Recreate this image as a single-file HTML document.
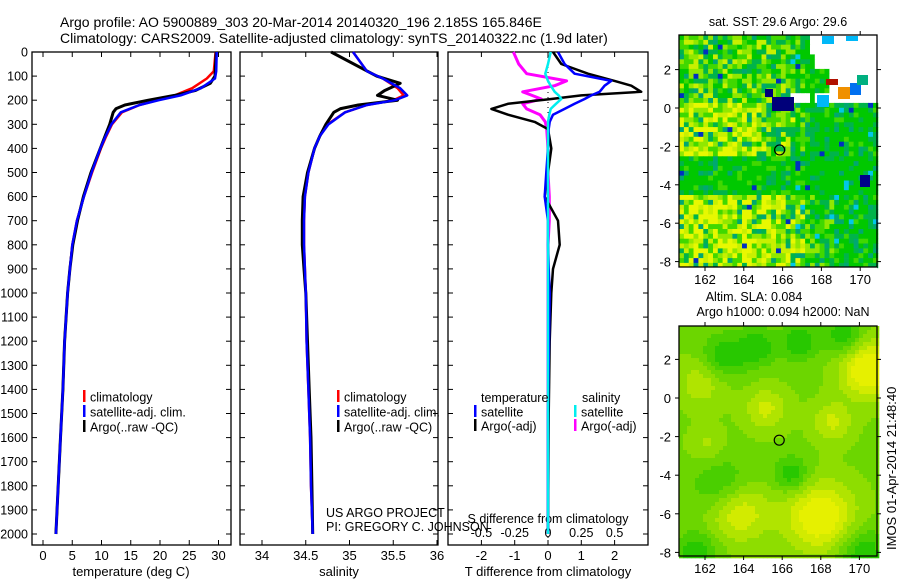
<!DOCTYPE html>
<html><head><meta charset="utf-8">
<style>
html,body{margin:0;padding:0;background:#fff;}
svg{display:block;font-family:"Liberation Sans",sans-serif;}
</style></head>
<body>
<svg id="fig" width="900" height="580" viewBox="0 0 900 580" xmlns="http://www.w3.org/2000/svg">
<text x="60" y="27" font-size="14">Argo profile: AO 5900889_303 20-Mar-2014 20140320_196 2.185S 165.846E</text>
<text x="60" y="43" font-size="14">Climatology: CARS2009. Satellite-adjusted climatology: synTS_20140322.nc (1.9d later)</text>
<g id="p1"></g>
<g id="p2"></g>
<g id="p3"></g>
<g id="m1"></g>
<g id="m2"></g>
<text x="0" y="0" font-size="13" transform="translate(896,550) rotate(-90)">IMOS 01-Apr-2014 21:48:40</text>
</svg>
<script>
// ---- data ----
const depthTicks = [0,100,200,300,400,500,600,700,800,900,1000,1100,1200,1300,1400,1500,1600,1700,1800,1900,2000];
const tempTicks = [0,5,10,15,20,25,30];
const salTicks = [34,34.5,35,35.5,36];
const salTickLabels = ["34","34.5","35","35.5","36"];
const tdiffTicks = [-2,-1,0,1,2];
const sdiffTicks = [-0.5,-0.25,0,0.25,0.5];
const sdiffTickLabels = ["-0.5","-0.25","0","0.25","0.5"];

const climDepth = [0,80,110,150,180,200,220,250,300,350,400,500,600,700,800,900,1000,1200,1400,1600,1800,2000];
const climTemp  = [29.5,29.2,28.0,25.5,22.5,19.5,16.5,13.5,11.8,10.8,9.9,8.4,7.0,5.8,5.0,4.6,4.2,3.7,3.4,3.0,2.6,2.2];
const satTemp   = [29.7,29.6,29.4,27.0,23.5,19.8,16.5,13.3,11.7,10.7,9.8,8.3,7.0,5.8,5.0,4.6,4.2,3.7,3.4,3.0,2.6,2.2];
const argoDepth = [0,100,130,160,180,200,220,235,250,300,350,400,500,600,700,800,900,1000,1200,1400,1600,1800,2000];
const argoTemp  = [29.6,29.4,28.6,26.0,22.5,18.0,14.0,12.5,12.0,11.4,10.6,9.8,8.2,6.9,5.9,5.1,4.6,4.2,3.7,3.4,3.0,2.6,2.2];

const climSal = [35.04,35.2,35.38,35.55,35.62,35.5,35.2,34.95,34.75,34.66,34.6,34.53,34.49,34.48,34.48,34.49,34.5,34.51,34.53,34.55,34.56,34.58];
const satSal  = [35.04,35.2,35.38,35.58,35.66,35.52,35.2,34.95,34.76,34.66,34.6,34.53,34.49,34.48,34.48,34.49,34.5,34.51,34.53,34.55,34.56,34.58];
const argoSal = [34.79,35.31,35.58,35.4,35.32,35.55,35.1,34.9,34.82,34.73,34.66,34.6,34.52,34.47,34.46,34.46,34.48,34.5,34.52,34.54,34.56,34.57,34.58];

const diffDepth  = [0,50,90,120,140,165,180,195,215,236,260,290,320,400,500,600,700,800,900,1000,1200,1500,2000];
const argoTdiff  = [0.15,0.4,1.2,2.0,2.5,2.8,1.0,0.1,-1.2,-1.7,-1.2,-0.4,0.0,0.1,0.0,-0.1,0.3,0.35,0.15,0.1,0.05,0.02,0.0];
const satTdiff   = [0.3,0.5,0.8,1.9,1.7,1.55,1.3,1.1,0.8,0.5,0.15,0.05,0.02,0.0,-0.05,-0.1,0.0,0.0,0.02,0.05,0.03,0.0,0.0];
const argoSdiff  = [-0.26,-0.22,-0.16,0.14,0.05,-0.19,-0.12,-0.05,-0.19,-0.16,-0.06,-0.02,-0.01,0.0,0.0,0.01,0.01,0.0,0.0,0.0,0.0,0.0,0.0];
const satSdiff   = [0.02,0.0,-0.02,0.0,0.02,0.05,0.08,0.1,0.06,0.02,0.01,0.0,0.0,0.0,0.0,0.0,0.0,0.0,0.0,0.0,0.0,0.0,0.0];

const lonTicks = [162,164,166,168,170];
const latTicks = [2,0,-2,-4,-6,-8];
const argoLon = 165.846, argoLat = -2.185;

const NS="http://www.w3.org/2000/svg";
function mk(parent,tag,attrs){const e=document.createElementNS(NS,tag);for(const k in attrs)e.setAttribute(k,attrs[k]);parent.appendChild(e);return e;}
function txt(parent,x,y,s,size,anchor){const t=mk(parent,'text',{x:x,y:y,'font-size':size,'text-anchor':anchor||'start'});t.textContent=s;return t;}

const top0=52, pxPer=0.2410;
function yD(d){return top0+d*pxPer;}
const fTop=52, fBot=545;

function frame(g,x0,x1){
  const r=mk(g,'rect',{x:x0,y:fTop,width:x1-x0,height:fBot-fTop,fill:'none',stroke:'#000','stroke-width':1.3});
  
  
  depthTicks.forEach(d=>{
    mk(g,'line',{x1:x0,x2:x0+5,y1:yD(d),y2:yD(d),stroke:'#000'});
    mk(g,'line',{x1:x1-5,x2:x1,y1:yD(d),y2:yD(d),stroke:'#000'});
  });
}
function xTicks(g,xs,labels,yl){
  xs.forEach((x,i)=>{
    mk(g,'line',{x1:x,x2:x,y1:fBot,y2:fBot-5,stroke:'#000'});
    mk(g,'line',{x1:x,x2:x,y1:fTop,y2:fTop+5,stroke:'#000'});
    const t=txt(g,x,yl,labels[i],13,'middle');
    
    
  });
}
function line(g,xs,ds,fx,color,w,name){
  const pts=ds.map((d,i)=>fx(xs[i]).toFixed(1)+','+yD(d).toFixed(1)).join(' ');
  const p=mk(g,'polyline',{points:pts,fill:'none',stroke:color,'stroke-width':w,'stroke-linejoin':'round'});
  
  
}
function legend(g,x,y,color,label){
  mk(g,'rect',{x:x,y:y-7,width:2.5,height:12,fill:color});
  const t=txt(g,x+7,y+4.5,label,12.5);
  
  
}

// Panel 1
const p1=document.getElementById('p1');
const xT=v=>43+v*5.85;
frame(p1,32,231);
depthTicks.forEach(d=>{const t=txt(p1,28,yD(d)+4.5,String(d),12.5,'end');
  
  });
xTicks(p1,tempTicks.map(xT),tempTicks.map(String),560);
const xl1=txt(p1,131,576,'temperature (deg C)',13,'middle');


line(p1,climTemp,climDepth,xT,'#f00',2.5,'climatology-temp-line');
line(p1,argoTemp,argoDepth,xT,'#000',3,'argo-temp-line');
line(p1,satTemp,climDepth,xT,'#00f',2.5,'satellite-temp-line');
legend(p1,83,397,'#f00','climatology');
legend(p1,83,412,'#00f','satellite-adj. clim.');
legend(p1,83,427,'#000','Argo(..raw -QC)');

// Panel 2
const p2=document.getElementById('p2');
const xS=v=>262+(v-34)*87.5;
frame(p2,240,438);
xTicks(p2,salTicks.map(xS),salTickLabels,560);
const xl2=txt(p2,339,576,'salinity',13,'middle');


line(p2,climSal,climDepth,xS,'#f00',2.5,'climatology-sal-line');
line(p2,argoSal,argoDepth,xS,'#000',3,'argo-sal-line');
line(p2,satSal,climDepth,xS,'#00f',2.5,'satellite-sal-line');
legend(p2,337,397,'#f00','climatology');
legend(p2,337,412,'#00f','satellite-adj. clim.');
legend(p2,337,427,'#000','Argo(..raw -QC)');
const c1=txt(p2,326,517,'US ARGO PROJECT',12.5);


const c2=txt(p2,326,531,'PI: GREGORY C. JOHNSON',12.5);



// Panel 3
const p3=document.getElementById('p3');
const xTd=v=>548+v*33.3;
const xSd=v=>548+v*4*33.3;
frame(p3,448,648);
xTicks(p3,tdiffTicks.map(xTd),tdiffTicks.map(String),560);
sdiffTicks.forEach((v,i)=>{const t=txt(p3,xSd(v),537,sdiffTickLabels[i],12.5,'middle');
  
  });
const sdt=txt(p3,548,523,'S difference from climatology',12.5,'middle');


const tdt=txt(p3,548,576,'T difference from climatology',13,'middle');


mk(p3,'line',{x1:548,x2:548,y1:fTop,y2:fBot,stroke:'#000','stroke-dasharray':'1 4'});
line(p3,argoSdiff,diffDepth,xSd,'#f0f',3,'argo-sdiff-line');
line(p3,argoTdiff,diffDepth,xTd,'#000',2.5,'argo-tdiff-line');
line(p3,satTdiff,diffDepth,xTd,'#00f',2.5,'satellite-tdiff-line');
line(p3,satSdiff,diffDepth,xSd,'#0ee',2.5,'satellite-sdiff-line');
const lt=txt(p3,481,402,'temperature',12.5);


const ls=txt(p3,582,402,'salinity',12.5);


legend(p3,474,412,'#00f','satellite');
legend(p3,474,426,'#000','Argo(-adj)');
legend(p3,574,412,'#0ee','satellite');
legend(p3,574,426,'#f0f','Argo(-adj)');

// ---- maps ----
function mapAxes(g,x0,x1,y0,y1,lonX,latY){
  const r=mk(g,'rect',{x:x0,y:y0,width:x1-x0,height:y1-y0,fill:'none',stroke:'#000','stroke-width':1.3});
  
  
  lonTicks.forEach(l=>{const x=lonX(l);
    mk(g,'line',{x1:x,x2:x,y1:y1,y2:y1+4,stroke:'#000'});
    mk(g,'line',{x1:x,x2:x,y1:y0,y2:y0-4,stroke:'#000'});
    const t=txt(g,x,y1+17,String(l),13,'middle');
    
    });
  latTicks.forEach(l=>{const y=latY(l);
    mk(g,'line',{x1:x0-4,x2:x0,y1:y,y2:y,stroke:'#000'});
    mk(g,'line',{x1:x1,x2:x1+4,y1:y,y2:y,stroke:'#000'});
    const t=txt(g,x0-8,y+5,String(l),13,'end');
    
    });
  const c=mk(g,'circle',{cx:lonX(argoLon),cy:latY(argoLat),r:5,fill:'none',stroke:'#000','stroke-width':1.2});
  
  
}
function h(i,j){let x=(i*374761393 + j*668265263)|0; x=(x^(x>>>13))*1274126177|0; x=x^(x>>>16); return ((x>>>0)%10000)/10000;}

// SST map
const m1=document.getElementById('m1');
const lx1=l=>705+(l-162)*19.4, ly1=l=>108-l*19.2;
const t1=txt(m1,778,26,'sat. SST: 29.6 Argo: 29.6',12.5,'middle');


(function(){
  const X0=679,Y0=35,X1=877,Y1=267,cs=4.85;
  const pal=['#00c800','#00b44a','#40d800','#90e800','#c8f000','#e8f800','#00a870'];
  const nx=Math.ceil((X1-X0)/cs), ny=Math.ceil((Y1-Y0)/cs);
  for(let j=0;j<ny;j++)for(let i=0;i<nx;i++){
    const lat=3.8-j*cs/19.2, lon=160.7+i*cs/19.4;
    let warm=0;
    if(lat>-2.5 && lat<0.3) warm+= (lon<164.5?0.45:(lon<166.5?0.2:-0.05));
    if(lat<-4.3) warm+= (lon<166?0.45:(lon<168.5?0.25:0.0));
    if(lat>0.3) warm+= (lon<166?0.15:0.0);
    if(lat<-2.5&&lat>-4.3) warm-=0.25;
    if(lon>167) warm-=0.25;
    const r=h(i,j)*0.9+warm;
    let c = r<0.3?pal[0]: r<0.5?pal[1]: r<0.7?pal[2]: r<0.9?pal[3]: r<1.05?pal[4]:pal[5];
    if(h(j+7,i+3)<0.07) c=pal[6];
    if(h(i+11,j+5)<0.03 && lon>166) c='#00c8e8';
    if(h(i+21,j+9)<0.015) c='#0030c0';
    let white=false;
    if(lat>0.3 && lon>167.5 && !(lat<2.1 && lon<168.4 && lat>0.8)) white=true;
    if(lat>2.9 && lon>167.2) white=true;
    if(lat>0.3 && lat<0.9 && lon>166.3 && lon<167.3) white=true;
    if(lat>-0.1 && lon>169.4 && lat<0.5 && h(i,j)<0.5) white=false;
    if(white) c='#fff';
    mk(m1,'rect',{x:(X0+i*cs).toFixed(1),y:(Y0+j*cs).toFixed(1),width:cs+0.4,height:cs+0.4,fill:c});
  }
  mk(m1,'rect',{x:X0,y:Y1,width:X1-X0,height:3,fill:'#fff'});
  mk(m1,'rect',{x:772,y:97,width:22,height:14,fill:'#00007a'});
  mk(m1,'rect',{x:765,y:89,width:8,height:8,fill:'#00007a'});
  mk(m1,'rect',{x:826,y:79,width:12,height:6,fill:'#b01000'});
  mk(m1,'rect',{x:838,y:87,width:12,height:12,fill:'#f09000'});
  mk(m1,'rect',{x:850,y:83,width:11,height:12,fill:'#0070f0'});
  mk(m1,'rect',{x:817,y:95,width:12,height:12,fill:'#00b8f8'});
  mk(m1,'rect',{x:822,y:36,width:12,height:8,fill:'#00b8f8'});
  mk(m1,'rect',{x:846,y:36,width:12,height:5,fill:'#00b8f8'});
  mk(m1,'rect',{x:857,y:75,width:11,height:10,fill:'#00b080'});
  mk(m1,'rect',{x:860,y:175,width:10,height:12,fill:'#00008a'});
})();
mapAxes(m1,679,877,35,267,lx1,ly1);

// SLA map
const m2=document.getElementById('m2');
const lx2=l=>705+(l-162)*19.3, ly2=l=>398-l*19.3;
const t2=txt(m2,754,301,'Altim. SLA: 0.084',12.5,'middle');


const t3=txt(m2,783,316,'Argo h1000: 0.094 h2000: NaN',12.5,'middle');


(function(){
  const X0=679,Y0=326,X1=877,Y1=556,cs=4;
  const blobs=[[867,367,28,1.0],[735,508,30,0.8],[818,515,35,0.9],[764,407,22,0.5],[700,380,25,0.4],[830,420,20,0.5],[705,443,18,0.3]];
  const darks=[[722,355,22],[755,345,18],[797,340,18],[842,335,20],[722,488,30],[790,473,18],[695,550,20],[860,550,25]];
  for(let y=Y0;y<Y1;y+=cs)for(let x=X0;x<X1;x+=cs){
    let v=0.45;
    blobs.forEach(b=>{const d=((x-b[0])**2+(y-b[1])**2)/(b[2]*b[2]);v+=b[3]*Math.exp(-d);});
    darks.forEach(b=>{const d=((x-b[0])**2+(y-b[1])**2)/(b[2]*b[2]);v-=0.55*Math.exp(-d);});
    v=Math.max(0,Math.min(1.3,v));
    const q=Math.round(v*5)/5;
    const r=Math.round(40+q*170), gg=Math.round(200+q*35);
    mk(m2,'rect',{x:x,y:y,width:cs+0.3,height:cs+0.3,fill:`rgb(${Math.min(r,230)},${Math.min(gg,240)},0)`});
  }
})();
mapAxes(m2,679,877,326,556,lx2,ly2);
</script>
</body></html>
